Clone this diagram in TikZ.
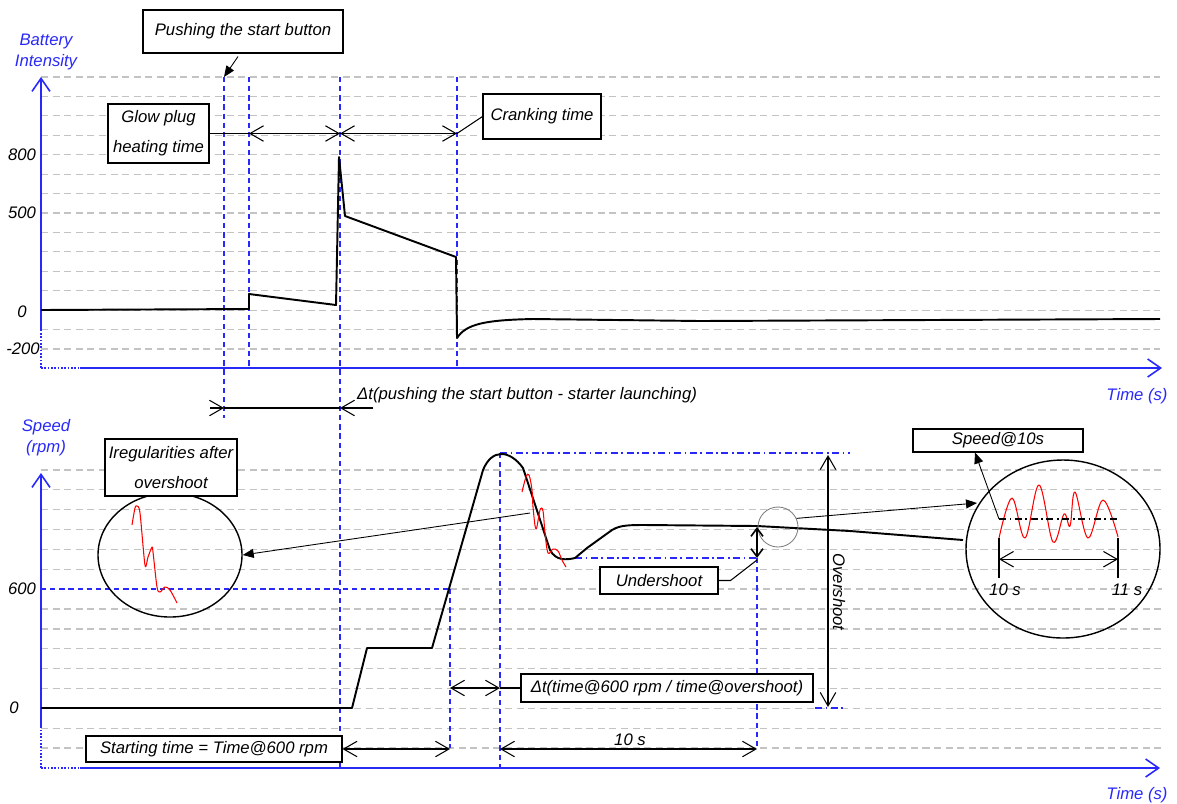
\documentclass[tikz,border=0pt]{standalone}
\usepackage{fontspec}
\setmainfont{Liberation Sans}
\usetikzlibrary{arrows.meta,positioning,calc,shapes.geometric}
\definecolor{axisBlue}{RGB}{40,40,250}
\definecolor{gridGray}{RGB}{195,195,195}
\newcommand{\noteFont}{\fontsize{9.5}{17}\selectfont\itshape}
\tikzset{
  >={Straight Barb[length=2.7mm,width=3.1mm]},
  gridLine/.style={draw=gridGray, line width=0.7pt, dash pattern=on 4pt off 2.6pt},
  markLine/.style={draw=axisBlue, line width=0.7pt, dash pattern=on 3pt off 2.2pt},
  markDashDot/.style={draw=axisBlue, line width=0.7pt, dash pattern=on 4pt off 2pt on 1pt off 2pt},
  axisLine/.style={draw=axisBlue, line width=0.9pt},
  axisArrow/.style={axisLine, -{Straight Barb[length=2.6mm,width=3.6mm]}},
  axisDots/.style={draw=axisBlue, line width=0.9pt, densely dotted},
  signalLine/.style={line width=1.1pt, line join=round},
  zoomLine/.style={draw=red, line width=0.6pt, line join=round},
  dimArrow/.style={<->, line width=0.6pt},
  leaderLine/.style={line width=0.6pt},
  pointerArrow/.style={-{Triangle[length=2.2mm,width=1.8mm]}, line width=0.5pt},
  noteBox/.style={draw, fill=white, line width=0.6pt, font=\noteFont, align=center, inner sep=0pt},
  axisLabel/.style={text=axisBlue, font=\fontsize{9.5}{12}\selectfont\itshape, align=center},
  tickLabel/.style={font=\noteFont},
  zoomCircle/.style={draw, ellipse, line width=0.8pt, inner sep=0pt},
}
\begin{document}
\begin{tikzpicture}[x=0.2mm, y=-0.2mm]
\useasboundingbox (0,0) rectangle (1177,803);

% Time marks
\coordinate (tPush) at (224,0);
\coordinate (tGlow) at (249,0);
\coordinate (tStart) at (340,0);
\coordinate (tCrank) at (457,0);
\coordinate (t600) at (450,0);
\coordinate (tPeak) at (500,0);
\coordinate (tTen) at (757,0);

% ===== Grids =====
\foreach \i in {0,...,14} {
  \draw[gridLine] (41,{77+19.43*\i}) -- (1160,{77+19.43*\i});
}
\foreach \i in {0,...,5,7,8,...,14} {
  \draw[gridLine] (41,{470+19.86*\i}) -- (1162,{470+19.86*\i});
}
\draw[gridLine] (450,589) -- (1162,589);
\draw[markLine] (41,589) -- (450,589);

% ===== Battery intensity axes =====
\draw[axisDots] (41,368) -- (41,330);
\draw[axisArrow] (41,330) -- (41,77);
\draw[axisDots] (41,368) -- (80,368);
\draw[axisArrow] (80,368) -- (1162,368);
\node[axisLabel] (batteryLabel) at (46,52) {Battery\\Intensity};
\node[axisLabel] (timeTop) at (1137,396) {Time (s)};
\node[tickLabel] (lbl800) at (22,155) {800};
\node[tickLabel] (lbl500) at (22,213) {500};
\node[tickLabel] (lblZeroA) at (22,312) {0};
\node[tickLabel] (lblMinus) at (23,349) {-200};

% ===== Speed axes =====
\draw[axisDots] (41,768) -- (41,728);
\draw[axisArrow] (41,728) -- (41,473);
\draw[axisDots] (41,768) -- (80,768);
\draw[axisArrow] (80,768) -- (1160,768);
\node[axisLabel] (speedLabel) at (46,438) {Speed\\(rpm)};
\node[axisLabel] (timeBottom) at (1137,795) {Time (s)};
\node[tickLabel] (lbl600) at (22,589) {600};
\node[tickLabel] (lblZeroB) at (14,708) {0};

% ===== Blue marks =====
\draw[markLine] ($(tPush)+(0,77)$) -- ($(tPush)+(0,418)$);
\draw[markLine] ($(tGlow)+(0,77)$) -- ($(tGlow)+(0,368)$);
\draw[markLine] ($(tStart)+(0,77)$) -- ($(tStart)+(0,768)$);
\draw[markLine] ($(tCrank)+(0,77)$) -- ($(tCrank)+(0,368)$);
\draw[markLine] ($(t600)+(0,589)$) -- ($(t600)+(0,748)$);
\draw[markLine] ($(tPeak)+(0,453)$) -- ($(tPeak)+(0,768)$);
\draw[markLine] ($(tTen)+(0,558)$) -- ($(tTen)+(0,748)$);
\draw[markDashDot] (500,453) -- (850,453);
\draw[markDashDot] (575,558) -- (757,558);
\draw[markDashDot] (815,708) -- (845,708);

% ===== Battery current =====
\draw[signalLine] (41,310) -- (249,309) -- (249,294) -- (336,305) -- (339,157) -- (345,216)
  -- (456,257) -- (457,338) .. controls (466,324) and (485,320) .. (533,319) -- (700,321) -- (1160,319);

% ===== Engine speed =====
\draw[signalLine] (41,708) -- (352,708) -- (367,648) -- (432,648) -- (483,470)
  .. controls (492,448) and (510,450) .. (523,468) -- (550,550)
  .. controls (556,561) and (566,560) .. (575,558) -- (587,548) -- (612,530)
  .. controls (620,525) and (630,525) .. (645,525) -- (757,526) -- (850,531) -- (963,540);
\draw[zoomLine] plot[smooth, tension=0.6] coordinates {(522,492) (526,477) (529,475) (532,490) (533,507) (536,529) (540,510) (543,511) (545,533) (548,553) (553,549) (558,551) (562,560) (566,567)};

% ===== Top annotations =====
\node[noteBox, minimum width=40mm, minimum height=8.6mm] (pushBox) at (243,31.5) {Pushing the start button};
\node[noteBox, minimum width=20.2mm, minimum height=11.8mm] (glowBox) at (158.5,133.5) {Glow plug\\heating time};
\node[noteBox, minimum width=23.6mm, minimum height=9mm] (crankBox) at (542,116.5) {Cranking time};
\draw[pointerArrow] ($(pushBox.south)+(-5,3)$) -- ($(tPush)+(0,77)$);
\draw[leaderLine] (glowBox.east) -- ($(tGlow)+(0,133.5)$);
\draw[dimArrow] ($(tGlow)+(0,133.5)$) -- ($(tStart)+(0,133.5)$);
\draw[dimArrow] ($(tStart)+(0,133.5)$) -- ($(tCrank)+(0,133.5)$);
\draw[leaderLine] ($(tCrank)+(0,133.5)$) -- (crankBox.west);

% ===== Delay between charts =====
\coordinate (pushLeft) at (210,408);
\coordinate (pushRight) at (373,408);
\draw[leaderLine, ->] (pushLeft) -- ($(tPush)+(0,408)$);
\draw[leaderLine] ($(tPush)+(0,408)$) -- ($(tStart)+(0,408)$);
\draw[leaderLine, ->] (pushRight) -- ($(tStart)+(0,408)$);
\node[tickLabel, anchor=west] (deltaPushLabel) at (351,395) {Δt(pushing the start button - starter launching)};

% ===== Left zoom =====
\node[zoomCircle, minimum width=28.8mm, minimum height=24.8mm] (zoomLeft) at (170,555) {};
\draw[zoomLine] plot[smooth, tension=0.5] coordinates {(132,525) (135,508) (137,506) (140,513) (145,565) (148,557) (152,547) (153,552) (157,587) (160,592) (165,587) (170,590) (177,603)};
\node[noteBox, minimum width=26.4mm, minimum height=11.4mm] (iregBox) at (171,467.5) {Iregularities after\\overshoot};
\coordinate (iregSpot) at (530,513);
\draw[pointerArrow] (iregSpot) -- (zoomLeft.east);

% ===== Right zoom =====
\node[draw=gray, circle, minimum size=8mm, inner sep=0pt, line width=0.5pt] (zoomSpot) at (778,527) {};
\node[zoomCircle, minimum width=38.8mm, minimum height=35.6mm] (zoomRight) at (1063,549) {};
\coordinate (spotTip) at (977,503);
\draw[pointerArrow] (zoomSpot.25) -- (spotTip);
\draw[zoomLine] plot[smooth, tension=0.6] coordinates {(999,538) (1012,498) (1025,538) (1039,485) (1053,542) (1064,514) (1070,526) (1075,492) (1088,538) (1103,500) (1118,537)};
\coordinate (meanLeft) at (999,519);
\coordinate (meanRight) at (1118,519);
\draw[line width=0.6pt, dash pattern=on 4pt off 2pt on 1pt off 2pt] (meanLeft) -- (meanRight);
\node[noteBox, minimum width=34mm, minimum height=4.6mm] (speedBox) at (998,440.5) {Speed@10s};
\draw[pointerArrow] (meanLeft) -- ($(speedBox.south)+(-23,0)$);
\coordinate (tickTenTop) at (999,538);
\coordinate (tickTenBot) at (999,578);
\coordinate (tickElevenTop) at (1118,538);
\coordinate (tickElevenBot) at (1118,578);
\draw[line width=0.9pt] (tickTenTop) -- (tickTenBot);
\draw[line width=0.9pt] (tickElevenTop) -- (tickElevenBot);
\draw[dimArrow] ($(tickTenTop)!0.53!(tickTenBot)$) -- ($(tickElevenTop)!0.53!(tickElevenBot)$);
\node[tickLabel] (tenLabel) at (1005,590) {10 s};
\node[tickLabel] (elevenLabel) at (1127,590) {11 s};

% ===== Speed annotations =====
\node[noteBox, minimum width=23.6mm, minimum height=5.4mm] (underBox) at (659,580.5) {Undershoot};
\node[noteBox, minimum width=58.4mm, minimum height=5.6mm] (deltaOverBox) at (667,688) {Δt(time@600 rpm / time@overshoot)};
\node[noteBox, minimum width=51.2mm, minimum height=5.2mm] (startBox) at (214,749) {Starting time = Time@600 rpm};
\draw[{Straight Barb[length=1.6mm,width=2.4mm]}-{Straight Barb[length=1.6mm,width=2.4mm]}, line width=0.9pt] ($(tTen)+(0,527)$) -- ($(tTen)+(0,558)$);
\draw[leaderLine] (underBox.east) -- ++(12,0) -- ($(tTen)+(0,560)$);
\draw[dimArrow] (828,455) -- (828,707);
\node[tickLabel, rotate=-90] (overLabel) at (839,592) {Overshoot};
\draw[dimArrow] ($(t600)+(0,688)$) -- ($(tPeak)+(0,688)$);
\draw[leaderLine] ($(tPeak)+(0,688)$) -- (deltaOverBox.west);
\draw[dimArrow] (startBox.east) -- ($(t600)+(0,749)$);
\draw[dimArrow] ($(tPeak)+(0,749)$) -- ($(tTen)+(0,749)$);
\node[tickLabel] (tenSpan) at (630,740) {10 s};

\end{tikzpicture}
\end{document}
